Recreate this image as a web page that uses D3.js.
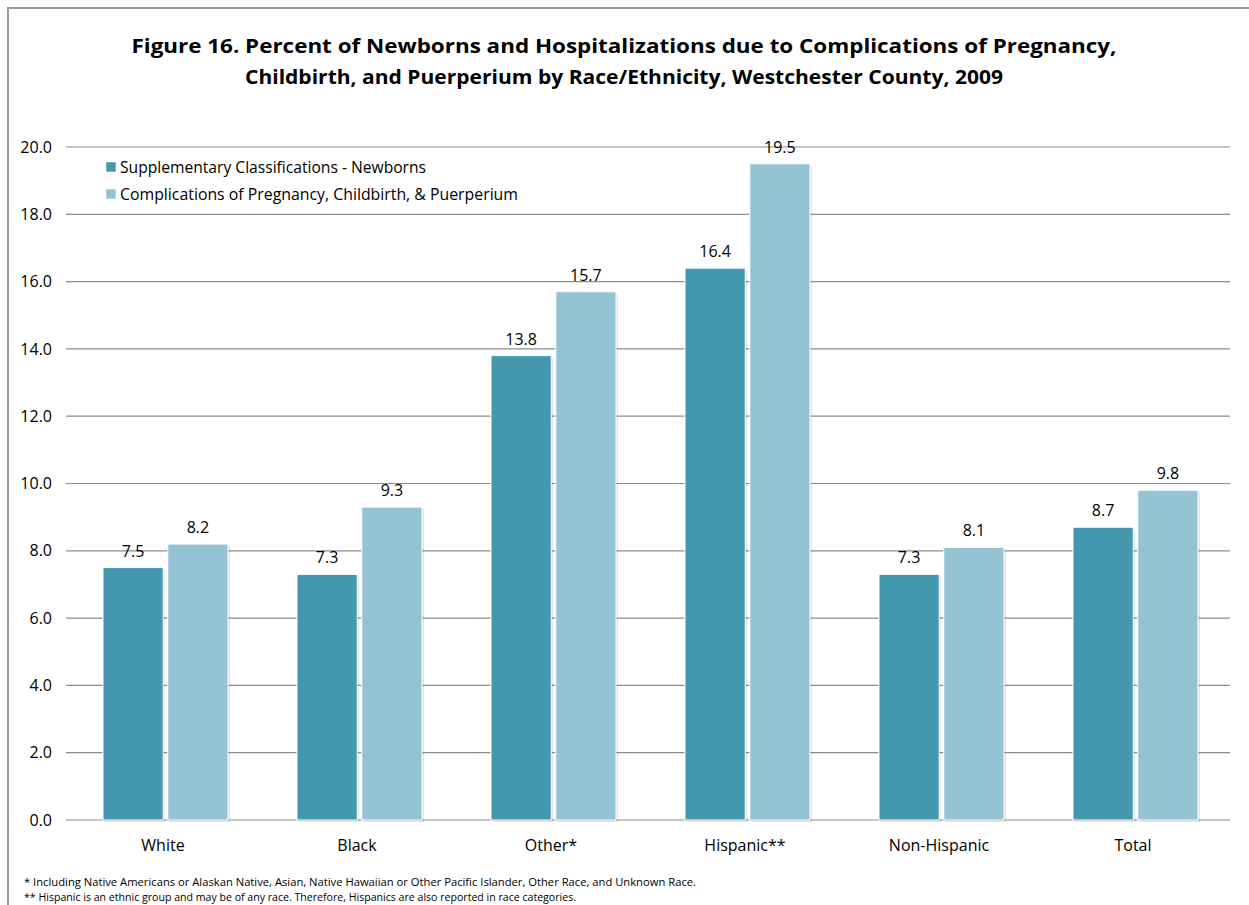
<!DOCTYPE html>
<html>
<head>
<meta charset="utf-8">
<script src="https://cdn.jsdelivr.net/npm/d3@7"></script>
<style>
  body { margin: 0; background: #fff; }
  svg { display: block; font-family: "Open Sans", "Noto Sans", sans-serif; }
</style>
</head>
<body>
<svg id="chart"></svg>
<script>
var categories = ["White", "Black", "Other*", "Hispanic**", "Non-Hispanic", "Total"];
var seriesNames = ["Supplementary Classifications  - Newborns",
                   "Complications of Pregnancy, Childbirth, & Puerperium"];
var newborns = [7.5, 7.3, 13.8, 16.4, 7.3, 8.7];
var complications = [8.2, 9.3, 15.7, 19.5, 8.1, 9.8];
var yTicks = [0, 2, 4, 6, 8, 10, 12, 14, 16, 18, 20];
var colors = ["#4398b0", "#94c3d4"];

var W = 1249, H = 905;
var margin = {top: 147, right: 19, bottom: 85, left: 66};
var width = W - margin.left - margin.right,
    height = H - margin.top - margin.bottom;

var svg = d3.select("#chart").attr("width", W).attr("height", H);

// outer frame
svg.append("rect")
    .attr("x", 8).attr("y", 8)
    .attr("width", W + 10).attr("height", H + 10)
    .attr("fill", "none")
    .attr("stroke", "#9a9a9a")
    .attr("stroke-width", 2);

svg.append("text")
    .attr("x", 624).attr("y", 53)
    .attr("text-anchor", "middle")
    .style("font-size", "20px").style("font-weight", "bold")
    .attr("textLength", 985).attr("lengthAdjust", "spacingAndGlyphs")
    .text("Figure 16. Percent of Newborns and Hospitalizations due to Complications of Pregnancy,");
svg.append("text")
    .attr("x", 624).attr("y", 84)
    .attr("text-anchor", "middle")
    .style("font-size", "20px").style("font-weight", "bold")
    .attr("textLength", 758).attr("lengthAdjust", "spacingAndGlyphs")
    .text("Childbirth, and Puerperium by Race/Ethnicity, Westchester County, 2009");

var g = svg.append("g")
    .attr("transform", "translate(" + margin.left + "," + margin.top + ")");

var x = d3.scaleBand().domain(categories).range([0, width]).paddingInner(0).paddingOuter(0);
var y = d3.scaleLinear().domain([0, 20]).range([height, 0]);

// gridlines
g.selectAll(".grid")
    .data(yTicks)
    .enter().append("line")
    .attr("x1", 0).attr("x2", width)
    .attr("y1", function(d) { return y(d); })
    .attr("y2", function(d) { return y(d); })
    .attr("stroke", "#8c8c8c")
    .attr("stroke-width", 1.2);

var yAxis = d3.axisLeft(y).tickValues(yTicks).tickSize(0).tickPadding(14)
    .tickFormat(d3.format(".1f"));
var ya = g.append("g").call(yAxis);
ya.select(".domain").remove();
ya.selectAll("text").style("font-size", "16px").attr("fill", "#000")
    .style("font-family", "'Open Sans', sans-serif");

var xAxis = d3.axisBottom(x).tickSize(0).tickPadding(20);
var xa = g.append("g").attr("transform", "translate(0," + height + ")").call(xAxis);
xa.select(".domain").remove();
xa.selectAll("text").style("font-size", "16px").attr("fill", "#000")
    .style("font-family", "'Open Sans', sans-serif");

var sub = d3.scaleBand().domain([0, 1]).range([37, 162]).paddingInner(0.07);

var rows = categories.map(function(c, i) {
    return {cat: c, vals: [newborns[i], complications[i]]};
});

var groups = g.selectAll(".grp")
    .data(rows)
    .enter().append("g")
    .attr("transform", function(d) { return "translate(" + x(d.cat) + ",0)"; });

var bars = groups.selectAll(".bar")
    .data(function(d) { return d.vals.map(function(v, k) { return {v: v, k: k}; }); })
    .enter();

// soft shadow
bars.append("rect")
    .attr("x", function(d) { return sub(d.k) + 2; })
    .attr("y", function(d) { return y(d.v) + 2; })
    .attr("width", sub.bandwidth())
    .attr("height", function(d) { return height - y(d.v); })
    .attr("fill", "#000").attr("opacity", 0.1);

bars.append("rect")
    .attr("x", function(d) { return sub(d.k); })
    .attr("y", function(d) { return y(d.v); })
    .attr("width", sub.bandwidth())
    .attr("height", function(d) { return height - y(d.v); })
    .attr("fill", function(d) { return colors[d.k]; })
    .attr("stroke", "#fff").attr("stroke-width", 1);

bars.append("text")
    .attr("x", function(d) { return sub(d.k) + sub.bandwidth() / 2; })
    .attr("y", function(d) { return y(d.v) - 11; })
    .attr("text-anchor", "middle")
    .style("font-size", "16px")
    .text(function(d) { return d.v.toFixed(1); });

// legend
var leg = svg.selectAll(".leg")
    .data(seriesNames)
    .enter().append("g")
    .attr("transform", function(d, i) { return "translate(106," + (167 + i * 27) + ")"; });
leg.append("rect")
    .attr("x", 0).attr("y", -5).attr("width", 10).attr("height", 10)
    .attr("fill", function(d, i) { return colors[i]; })
    .attr("stroke", "#fff").attr("stroke-width", 0.5);
leg.append("text")
    .attr("x", 14).attr("y", 5.5)
    .style("font-size", "16px")
    .attr("textLength", function(d, i) { return [306, 398][i]; })
    .attr("lengthAdjust", "spacingAndGlyphs")
    .text(function(d) { return d; });

// footnotes
svg.append("text")
    .attr("x", 24).attr("y", 886)
    .style("font-size", "10.5px")
    .attr("textLength", 672).attr("lengthAdjust", "spacingAndGlyphs")
    .text("* Including  Native Americans  or Alaskan Native, Asian, Native Hawaiian  or Other Pacific Islander, Other Race, and Unknown Race.");
svg.append("text")
    .attr("x", 24).attr("y", 901)
    .style("font-size", "10.5px")
    .attr("textLength", 552).attr("lengthAdjust", "spacingAndGlyphs")
    .text("** Hispanic is an ethnic group and may be of any race.  Therefore, Hispanics are also reported in race categories.");
</script>
</body>
</html>
